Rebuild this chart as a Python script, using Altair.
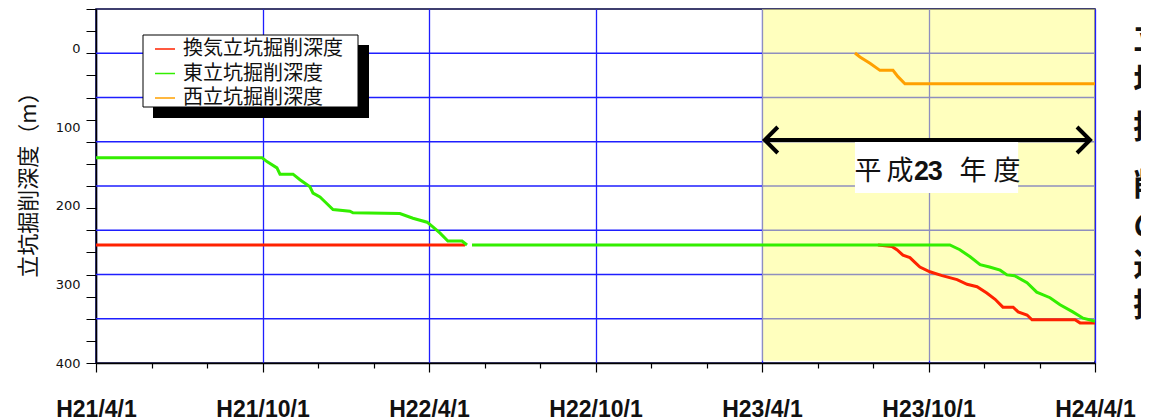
import json
import altair as alt
import pandas as pd

# ---------------- data ----------------
x_labels = ["H21/4/1", "H21/10/1", "H22/4/1", "H22/10/1", "H23/4/1", "H23/10/1", "H24/4/1"]
month_ticks = list(range(0, 37))          # months since H21/4/1
y_label_values = [0, 100, 200, 300, 400]
grid_units = [1, 2, 3, 4, 5, 6, 7]
grid_ticks = [i * 0.5 for i in range(17)]

series_names = ["換気立坑掘削深度", "東立坑掘削深度", "西立坑掘削深度"]
series_colors = ["#FF2200", "#33EE00", "#FFA000"]

red_month = [0, 13.3,
             28.18, 28.68, 28.86, 29.08, 29.33, 29.51, 29.69, 30.05, 30.49, 31.03, 31.39,
             31.75, 32.1, 32.4, 32.68, 33.05, 33.23, 33.55, 33.73, 35.28, 35.46, 36]
red_depth = [250, 250,
             250, 252, 256, 263, 266, 272, 278, 284, 289, 294, 300,
             303, 311, 319, 329, 329, 335, 339, 345, 345, 349, 349]
red_seg = [1, 1] + [2] * 22

green_month = [0, 5.98, 6.16, 6.52, 6.63, 7.1, 7.35, 7.71, 7.82, 8.07, 8.25, 8.54, 9.15, 9.26,
               10.95, 11.42, 11.93, 12.14, 12.4, 12.68, 13.19, 13.37,
               13.55, 30.77, 31.13, 31.5, 31.86, 32.2, 32.58, 32.83, 33.1, 33.55, 33.9,
               34.38, 34.74, 35.2, 35.57, 36]
green_depth = [139, 139, 144, 152, 160, 160, 167, 176, 184, 189, 195, 205, 207, 209,
               210, 216, 221, 227, 235, 245, 245, 250,
               250, 250, 256, 265, 275, 278, 282, 288, 289, 298, 310,
               317, 326, 335, 343, 347]
green_seg = [1] * 22 + [2] * 16

orange_month = [27.35, 27.53, 27.89, 28.25, 28.72, 28.9, 29.15, 36]
orange_depth = [6, 11, 19, 28, 28, 36, 45, 45]
orange_seg = [1] * 8

band_month = [24, 36]
band_depth = [-50, 397]

arrow_month = [24.1, 35.82]
arrow_depth = 116.5

year_box_month = [27.35, 33.23]
year_box_depth = [119, 184]
year_chars = ["平", "成", "2", "3", "年", "度"]
year_char_month = [27.82, 28.97, 29.75, 30.24, 31.6, 32.83]
year_char_bold = [False, False, True, True, False, False]
year_depth = 157

side_chars = ["立", "坑", "掘", "削", "の", "進", "捗"]
side_depth = [-12, 43, 101, 175, 226, 277, 328]
side_month = 37.38

# ---------------- tables ----------------
rows = []
for name, ms, ds, ss in [(series_names[0], red_month, red_depth, red_seg),
                         (series_names[1], green_month, green_depth, green_seg),
                         (series_names[2], orange_month, orange_depth, orange_seg)]:
    for i, (m, d, s) in enumerate(zip(ms, ds, ss)):
        rows.append({"series": name, "seg": f"{name}-{s}", "idx": i, "month": m, "depth": d})
lines_df = pd.DataFrame(rows)

xscale = alt.Scale(domain=[0, 36], nice=False, zero=False)
yscale = alt.Scale(domain=[-50, 400], reverse=True, nice=False, zero=False)

label_expr = "datum.value % 6 == 0 ? " + json.dumps(x_labels, ensure_ascii=False) + "[datum.value / 6] : ''"

xaxis = alt.Axis(
    values=month_ticks, labelExpr=label_expr, title=None,
    tickSize={"condition": {"test": "datum.value % 3 == 0", "value": 9}, "value": 5},
    tickColor="black", tickWidth=1.2,
    grid=True, gridColor="#1E1EFF", gridWidth=1.3,
    gridOpacity={"condition": {"test": "datum.value % 3 == 0", "value": 1}, "value": 0},
    domainColor="black", domainWidth=1.5,
    labelFont="Liberation Sans", labelFontSize=23,
    labelFontWeight="bold", labelColor="#111111", labelBaseline="alphabetic",
    labelPadding=44, labelFlush=False, labelOverlap=False, labelBound=False,
)

yaxis = alt.Axis(
    orient="left", values=y_label_values, ticks=False, domain=False, grid=False,
    labelFont="DejaVu Sans", labelFontSize=13, labelColor="#111111", labelPadding=16,
    labelFlush=False,
    title="立坑掘削深度（m）", titleFont="Noto Sans CJK JP", titleFontSize=22,
    titleFontWeight="normal", titleColor="#111111", titleAngle=-90,
    titleX=-68, titleY=170, titleAlign="center", titleBaseline="middle",
)

# ---------------- layers ----------------
grid_layer = alt.Chart(pd.DataFrame({"g": grid_units})).mark_rule(
    color="#1E1EFF", strokeWidth=1.3
).encode(
    y=alt.Y("g:Q", scale=alt.Scale(domain=[0, 8], nice=False, zero=False),
            axis=alt.Axis(orient="left", values=grid_ticks, labels=False, ticks=True,
                          tickSize=10, tickColor="black", domain=True, domainColor="black",
                          domainWidth=1.5, grid=False, title=None))
)

band = alt.Chart(pd.DataFrame({"x0": [band_month[0]], "x1": [band_month[1]],
                               "y0": [band_depth[0]], "y1": [band_depth[1]]})).mark_rect(
    color="#FFFF7D", opacity=0.5
).encode(
    x=alt.X("x0:Q", scale=xscale, axis=xaxis), x2="x1:Q",
    y=alt.Y("y0:Q", scale=yscale, axis=yaxis), y2="y1:Q",
)

lines = alt.Chart(lines_df).mark_line(strokeWidth=3).encode(
    x=alt.X("month:Q", scale=xscale),
    y=alt.Y("depth:Q", scale=yscale),
    color=alt.Color("series:N", scale=alt.Scale(domain=series_names, range=series_colors),
                    legend=alt.Legend(title=None, orient="none", legendX=58, legendY=29,
                                      symbolType="stroke", symbolSize=400, symbolStrokeWidth=1.5,
                                      labelFont="Noto Sans CJK JP", labelFontSize=20,
                                      labelColor="#111111", rowPadding=3.5, padding=0,
                                      labelOffset=7, labelLimit=400)),
    detail="seg:N",
    order="idx:Q",
)

dummy = pd.DataFrame({"a": [0]})
legend_shadow = alt.Chart(dummy).mark_rect(color="black").encode(
    x=alt.value(57), x2=alt.value(273), y=alt.value(36), y2=alt.value(109))
legend_box = alt.Chart(dummy).mark_rect(fill="white", stroke="black", strokeWidth=1).encode(
    x=alt.value(47), x2=alt.value(262), y=alt.value(26), y2=alt.value(98))

arrow_df = pd.DataFrame({"m0": [arrow_month[0]], "m1": [arrow_month[1]], "d": [arrow_depth]})
arrow_line = alt.Chart(arrow_df).mark_rule(color="black", strokeWidth=4).encode(
    x=alt.X("m0:Q", scale=xscale), x2="m1:Q", y=alt.Y("d:Q", scale=yscale))
arrow_left = alt.Chart(pd.DataFrame({"m": [arrow_month[0]], "d": [arrow_depth]})).mark_point(
    shape="M 1 -1 L 0 0 L 1 1", size=676, filled=False, color="black", strokeWidth=4, opacity=1
).encode(x=alt.X("m:Q", scale=xscale), y=alt.Y("d:Q", scale=yscale))
arrow_right = alt.Chart(pd.DataFrame({"m": [arrow_month[1]], "d": [arrow_depth]})).mark_point(
    shape="M -1 -1 L 0 0 L -1 1", size=676, filled=False, color="black", strokeWidth=4, opacity=1
).encode(x=alt.X("m:Q", scale=xscale), y=alt.Y("d:Q", scale=yscale))

year_box = alt.Chart(pd.DataFrame({"m0": [year_box_month[0]], "m1": [year_box_month[1]],
                                   "d0": [year_box_depth[0]], "d1": [year_box_depth[1]]})).mark_rect(
    color="white").encode(x=alt.X("m0:Q", scale=xscale), x2="m1:Q",
                          y=alt.Y("d0:Q", scale=yscale), y2="d1:Q")

year_df = pd.DataFrame({"c": year_chars, "m": year_char_month, "bold": year_char_bold,
                        "d": [year_depth] * len(year_chars)})
year_text_n = alt.Chart(year_df[~year_df["bold"]]).mark_text(
    font="Noto Sans CJK JP", fontSize=27, color="#111111", baseline="middle", align="center"
).encode(x=alt.X("m:Q", scale=xscale), y=alt.Y("d:Q", scale=yscale), text="c:N")
year_text_b = alt.Chart(year_df[year_df["bold"]]).mark_text(
    font="Liberation Sans", fontSize=27, fontWeight="bold", color="#111111",
    baseline="middle", align="center"
).encode(x=alt.X("m:Q", scale=xscale), y=alt.Y("d:Q", scale=yscale), text="c:N")

side_df = pd.DataFrame({"c": side_chars, "d": side_depth, "m": [side_month] * len(side_chars)})
side_text = alt.Chart(side_df).mark_text(
    font="Noto Sans CJK JP", fontSize=32, fontWeight="bold", color="#111111",
    baseline="middle", align="left"
).encode(x=alt.X("m:Q", scale=xscale), y=alt.Y("d:Q", scale=yscale), text="c:N")

data_layer = alt.layer(band, legend_shadow, legend_box, year_box, arrow_line, arrow_left,
                       arrow_right, year_text_n, year_text_b, side_text, lines)

chart = alt.layer(grid_layer, data_layer).resolve_scale(y="independent").properties(
    width=999, height=354,
    autosize=alt.AutoSizeParams(type="none"),
    padding={"left": 88, "top": 1, "right": 46, "bottom": 55},
).configure_view(stroke="#000040", strokeWidth=1.5)

chart.save("out.html", embed_options={"renderer": "svg", "actions": False})
